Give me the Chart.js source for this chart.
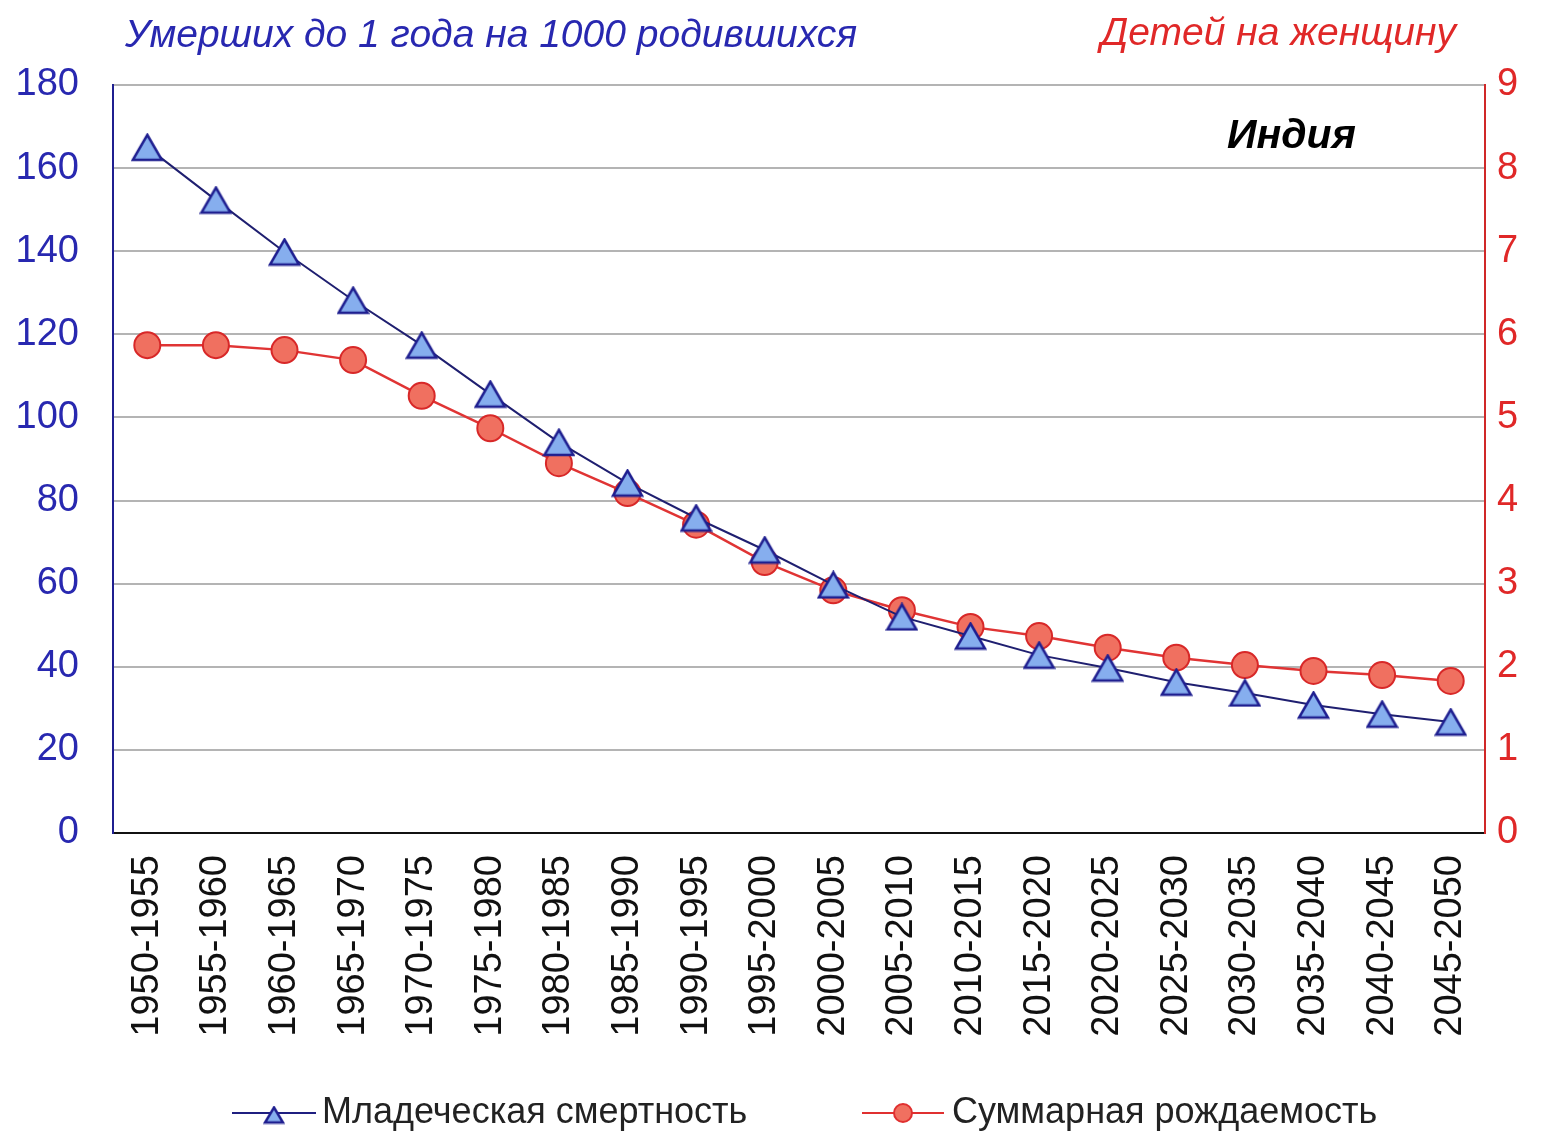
<!DOCTYPE html>
<html>
<head>
<meta charset="utf-8">
<script src="https://cdn.jsdelivr.net/npm/chart.js@4/dist/chart.umd.min.js"></script>
<style>
    html, body { margin: 0; padding: 0; background: #fff; }
    #wrap { position: relative; width: 1542px; height: 1134px; }
</style>
</head>
<body>
<div id="wrap"><canvas id="india-chart" width="1542" height="1134"></canvas></div>
<script>
const periods = ['1950-1955', '1955-1960', '1960-1965', '1965-1970', '1970-1975',
    '1975-1980', '1980-1985', '1985-1990', '1990-1995', '1995-2000',
    '2000-2005', '2005-2010', '2010-2015', '2015-2020', '2020-2025',
    '2025-2030', '2030-2035', '2035-2040', '2040-2045', '2045-2050'];
const infantMortality = [165, 152.3, 139.8, 128.2, 117.4, 105.6, 94, 84.2, 75.8, 68.1,
    59.7, 52, 47.4, 42.8, 39.7, 36.3, 33.7, 30.8, 28.6, 26.7];
const fertility = [5.87, 5.87, 5.81, 5.69, 5.26, 4.87, 4.45, 4.09, 3.71, 3.26,
    2.92, 2.68, 2.48, 2.37, 2.23, 2.11, 2.02, 1.95, 1.90, 1.83];
const leftTicks = [0, 20, 40, 60, 80, 100, 120, 140, 160, 180];
const rightTicks = [0, 1, 2, 3, 4, 5, 6, 7, 8, 9];

const FONT = '"Liberation Sans", Arial, sans-serif';
const BLUE_TEXT = '#2828b0';
const RED_TEXT = '#e02828';
const TRI_FILL = '#86aeee';
const TRI_EDGE = '#1f1f90';

// triangle marker centred on its bounding box (like the spreadsheet markers)
function makeTriangle(w, h) {
    const c = document.createElement('canvas');
    c.width = w + 4;
    c.height = h + 4;
    const g = c.getContext('2d');
    g.lineWidth = 2.5;
    g.lineJoin = 'miter';
    g.fillStyle = TRI_FILL;
    g.strokeStyle = TRI_EDGE;
    g.beginPath();
    g.moveTo(c.width / 2, 2);
    g.lineTo(c.width - 2, h + 2);
    g.lineTo(2, h + 2);
    g.closePath();
    g.fill();
    g.stroke();
    return c;
}
const triangleMarker = makeTriangle(29, 25);
const triangleSmall = makeTriangle(18, 15);

// titles, country name and legend drawn on top of the chart
const extraText = {
    id: 'extraText',
    afterDraw(chart) {
        const { ctx } = chart;
        ctx.save();
        ctx.textBaseline = 'middle';
        ctx.font = 'italic 39px ' + FONT;
        ctx.fillStyle = BLUE_TEXT;
        ctx.textAlign = 'left';
        ctx.fillText('Умерших до 1 года на 1000 родившихся', 125, 36);
        ctx.fillStyle = RED_TEXT;
        ctx.textAlign = 'right';
        ctx.fillText('Детей на женщину', 1456, 34);
        ctx.font = 'italic bold 41px ' + FONT;
        ctx.fillStyle = '#000';
        ctx.textAlign = 'left';
        ctx.fillText('Индия', 1227, 137);

        // legend
        const legendY = 1113;
        ctx.font = '36px ' + FONT;
        ctx.lineWidth = 2;
        ctx.strokeStyle = '#1f1f80';
        ctx.beginPath();
        ctx.moveTo(232, legendY); ctx.lineTo(316, legendY); ctx.stroke();
        ctx.drawImage(triangleSmall, 274 - triangleSmall.width / 2, legendY - triangleSmall.height / 2 + 2);
        ctx.fillStyle = '#222';
        ctx.fillText('Младеческая смертность', 322, legendY);

        ctx.strokeStyle = '#e03030';
        ctx.beginPath();
        ctx.moveTo(862, legendY); ctx.lineTo(944, legendY); ctx.stroke();
        ctx.fillStyle = '#f07060';
        ctx.beginPath();
        ctx.arc(903, legendY, 9, 0, Math.PI * 2);
        ctx.fill(); ctx.stroke();
        ctx.fillStyle = '#222';
        ctx.fillText('Суммарная рождаемость', 952, legendY);
        ctx.restore();
    }
};

new Chart(document.getElementById('india-chart'), {
    type: 'line',
    data: {
        labels: periods,
        datasets: [
            {
                label: 'Младеческая смертность',
                data: infantMortality,
                yAxisID: 'y',
                borderColor: '#1f1f70',
                borderWidth: 2,
                pointStyle: triangleMarker,
                pointRadius: 15,
                tension: 0
            },
            {
                label: 'Суммарная рождаемость',
                data: fertility,
                yAxisID: 'y1',
                borderColor: '#e03434',
                borderWidth: 2.5,
                pointStyle: 'circle',
                pointRadius: 13,
                pointBackgroundColor: '#f07060',
                pointBorderColor: '#d82828',
                pointBorderWidth: 2,
                tension: 0
            }
        ]
    },
    options: {
        responsive: false,
        animation: false,
        layout: { padding: { top: 85, bottom: 81, left: 0, right: 0 } },
        plugins: { legend: { display: false }, tooltip: { enabled: false } },
        scales: {
            x: {
                offset: true,
                grid: { display: false, drawTicks: false },
                border: { color: '#111', width: 2 },
                ticks: {
                    color: '#111',
                    font: { family: FONT, size: 38 },
                    minRotation: 90, maxRotation: 90,
                    autoSkip: false,
                    padding: 22
                },
                afterFit(axis) { axis.height = 220; }
            },
            y: {
                position: 'left',
                min: 0, max: 180,
                afterBuildTicks(axis) { axis.ticks = leftTicks.map(v => ({ value: v })); },
                grid: { color: '#b4b4b4', lineWidth: 2, drawTicks: false },
                border: { color: '#1f1f90', width: 2 },
                ticks: {
                    color: BLUE_TEXT,
                    font: { family: FONT, size: 38 },
                    padding: 34
                },
                afterFit(axis) { axis.width = 113; }
            },
            y1: {
                position: 'right',
                min: 0, max: 9,
                afterBuildTicks(axis) { axis.ticks = rightTicks.map(v => ({ value: v })); },
                grid: { display: false, drawTicks: false },
                border: { color: '#d02828', width: 2 },
                ticks: {
                    color: RED_TEXT,
                    font: { family: FONT, size: 38 },
                    padding: 12
                },
                afterFit(axis) { axis.width = 57; }
            }
        }
    },
    plugins: [extraText]
});
</script>
</body>
</html>
